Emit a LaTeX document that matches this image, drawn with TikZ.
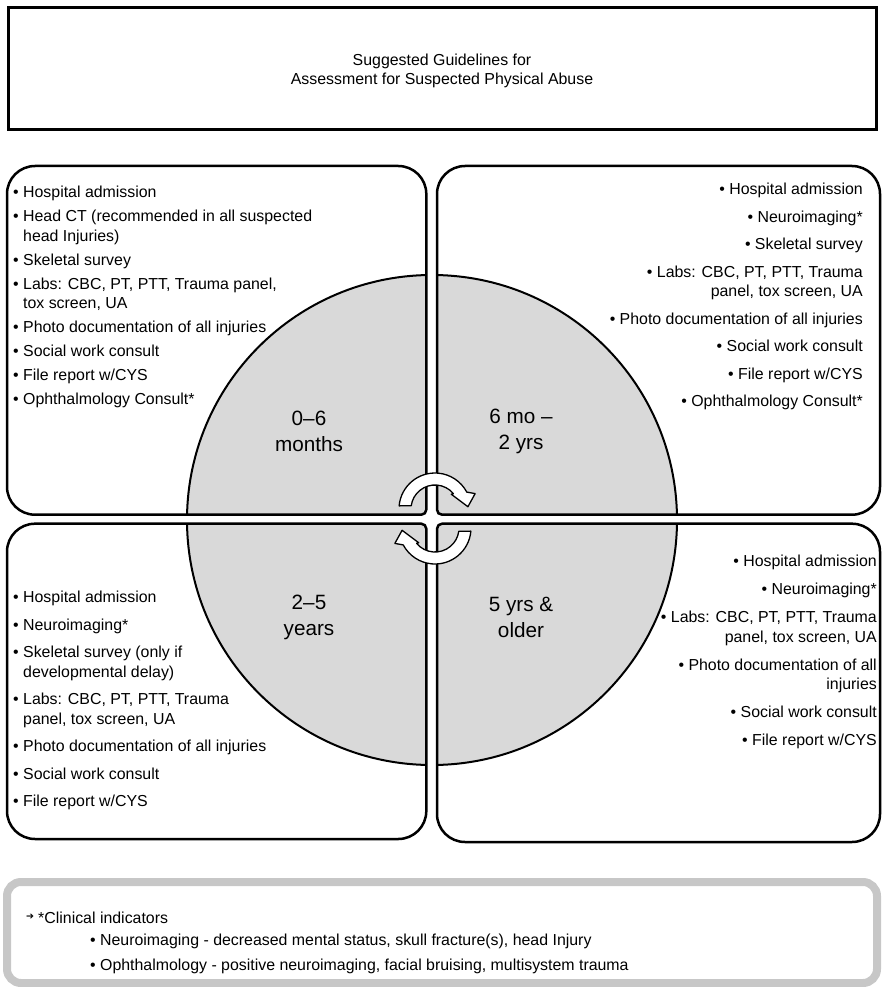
\documentclass[tikz,border=0pt]{standalone}
\usepackage{fontspec}
\setmainfont{Liberation Sans}
\newfontfamily\symfont{DejaVu Sans}
\tikzset{
  box/.style={line width=2.5pt, line join=round},
  listtext/.style={inner sep=0pt, font=\fontsize{15.9}{19.5}\selectfont},
  agelabel/.style={inner sep=0pt, align=center, font=\fontsize{20.7}{26}\selectfont},
  turnarrow/.style={fill=white, draw=black, line width=1.3pt, line join=round},
}
\newcommand{\hang}{\hphantom{\textbullet\ }}

\begin{document}
\begin{tikzpicture}[x=1pt, y=-1pt]
  \useasboundingbox (0,0) rectangle (884,987);
  \draw[line width=3pt] (8,8) rectangle (876,130);
  \node[listtext, align=center, anchor=north, font=\fontsize{15.9}{19}\selectfont] (title) at (442,54)
    {Suggested Guidelines for\\Assessment for Suspected Physical Abuse};
  % the disc sits under all four boxes; the white cross cuts it into quarters
  \filldraw[fill=black!15, line width=2pt] (432,520) circle (245);
  \fill[white] (426.3,268) rectangle (437,772);
  \fill[white] (180,514.7) rectangle (684,523.7);
  \draw[box] (7,340) [rounded corners=28pt] -- (7,166) -- (426.3,166) -- (426.3,340)
    [rounded corners=5pt] -- (426.3,514.7) -- (220,514.7) [rounded corners=28pt] -- (7,514.7) -- cycle;
  \draw[box] (437,340) [rounded corners=28pt] -- (437,166) -- (880,166) -- (880,514.7) -- (650,514.7)
    [rounded corners=5pt] -- (437,514.7) -- cycle;
  \draw[box] (7,680) [rounded corners=28pt] -- (7,523.7) -- (220,523.7) [rounded corners=5pt] -- (426.3,523.7)
    -- (426.3,680) [rounded corners=28pt] -- (426.3,839) -- (7,839) -- cycle;
  \draw[box] (437,680) [rounded corners=5pt] -- (437,523.7) -- (650,523.7) [rounded corners=28pt]
    -- (880,523.7) -- (880,842) -- (437,842) -- cycle;

  \node[listtext, align=left, anchor=north west] (infant) at (13,186)
    {\textbullet\ Hospital admission\\[4.5pt]
     \textbullet\ Head CT (recommended in all suspected\\ \hang head Injuries)\\[4.5pt]
     \textbullet\ Skeletal survey\\[4.5pt]
     \textbullet\ Labs: CBC, PT, PTT, Trauma panel,\\ \hang tox screen, UA\\[4.5pt]
     \textbullet\ Photo documentation of all injuries\\[4.5pt]
     \textbullet\ Social work consult\\[4.5pt]
     \textbullet\ File report w/CYS\\[4.5pt]
     \textbullet\ Ophthalmology Consult*};
  \node[listtext, align=right, anchor=north east] (toddler) at (863,183)
    {\textbullet\ Hospital admission\\[8pt]
     \textbullet\ Neuroimaging*\\[8pt]
     \textbullet\ Skeletal survey\\[8pt]
     \textbullet\ Labs: CBC, PT, PTT, Trauma\\ panel, tox screen, UA\\[8pt]
     \textbullet\ Photo documentation of all injuries\\[8pt]
     \textbullet\ Social work consult\\[8pt]
     \textbullet\ File report w/CYS\\[8pt]
     \textbullet\ Ophthalmology Consult*};
  \node[listtext, align=left, anchor=north west] (preschool) at (13,591)
    {\textbullet\ Hospital admission\\[8pt]
     \textbullet\ Neuroimaging*\\[8pt]
     \textbullet\ Skeletal survey (only if\\ \hang developmental delay)\\[8pt]
     \textbullet\ Labs: CBC, PT, PTT, Trauma\\ \hang panel, tox screen, UA\\[8pt]
     \textbullet\ Photo documentation of all injuries\\[8pt]
     \textbullet\ Social work consult\\[8pt]
     \textbullet\ File report w/CYS};
  \node[listtext, align=right, anchor=north east] (older) at (877,555)
    {\textbullet\ Hospital admission\\[8.5pt]
     \textbullet\ Neuroimaging*\\[8.5pt]
     \textbullet\ Labs: CBC, PT, PTT, Trauma\\ panel, tox screen, UA\\[8.5pt]
     \textbullet\ Photo documentation of all\\ injuries\\[8.5pt]
     \textbullet\ Social work consult\\[8.5pt]
     \textbullet\ File report w/CYS};

  \node[agelabel] (age1) at (309,431) {0–6\\months};
  \node[agelabel] (age2) at (521,431) {6 mo –\\2 yrs};
  \node[agelabel] (age3) at (309,617) {2–5\\years};
  \node[agelabel] (age4) at (521,617) {5 yrs \&\\older};

  \foreach \c/\r in {{(435,509)}/0,{(435,528)}/180}
    \draw[turnarrow, shift={\c}, yscale=-1, rotate=\r] (175:36) arc[start angle=175, end angle=28, radius=36]
      -- (21:43) -- (4:33) -- (42:22) -- (40:24) arc[start angle=40, end angle=172, radius=24] -- cycle;

  \draw[black!22, line width=8pt, rounded corners=14pt] (7,882) rectangle (877,983);
  \node[inner sep=0pt, font=\symfont\fontsize{9.5}{9.5}\selectfont] (pointer) at (30,917) {➔};
  \node[listtext, anchor=base west] (clinical) at (38,923) {*Clinical indicators};
  \node[listtext, align=left, anchor=north west, font=\fontsize{15.9}{25}\selectfont] (indicators) at (90,934)
    {\textbullet\ Neuroimaging - decreased mental status, skull fracture(s), head Injury\\
     \textbullet\ Ophthalmology - positive neuroimaging, facial bruising, multisystem trauma};
\end{tikzpicture}
\end{document}
